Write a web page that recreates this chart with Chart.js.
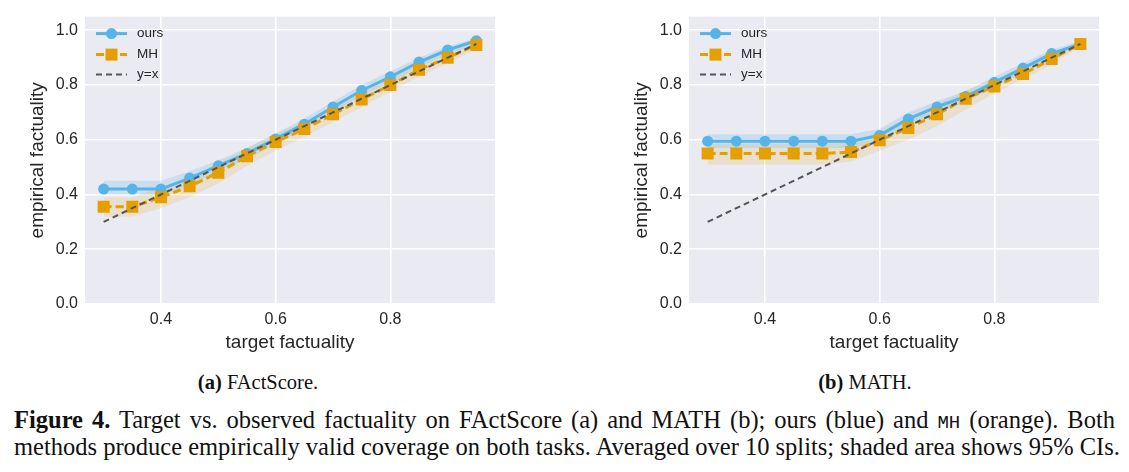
<!DOCTYPE html>
<html lang="en">
<head>
  <meta charset="UTF-8">
  <title>Target vs. observed factuality</title>
  <script src="https://cdn.jsdelivr.net/npm/chart.js"></script>
  <style>
    body {
      margin: 0;
      background: #ffffff;
      width: 1129px;
      height: 472px;
      position: relative;
      overflow: hidden;
    }

    canvas {
      position: absolute;
      top: 0;
    }

    #leftChart { left: 0; }
    #rightChart { left: 604px; }

    .sub {
      position: absolute;
      top: 369px;
      font-family: "Liberation Serif", serif;
      font-size: 20.5px;
      line-height: 26px;
      color: #111;
      width: 300px;
      text-align: center;
    }

    .caption {
      position: absolute;
      left: 14px;
      width: 1101px;
      font-family: "Liberation Serif", serif;
      font-size: 24.5px;
      line-height: 27px;
      color: #111;
      text-align: justify;
      text-align-last: justify;
      white-space: nowrap;
    }

    .mono {
      font-family: "Liberation Mono", monospace;
      font-size: 19px;
    }
  </style>
</head>
<body>
  <canvas id="leftChart" width="505" height="360"></canvas>
  <canvas id="rightChart" width="505" height="360"></canvas>

  <div class="sub" style="left: 108px;"><b>(a)</b> FActScore.</div>
  <div class="sub" style="left: 715px;"><b>(b)</b> MATH.</div>

  <div class="caption" style="top: 406px;"><b>Figure 4.</b> Target vs. observed factuality on FActScore (a) and MATH (b); ours (blue) and <span class="mono">MH</span> (orange). Both</div>
  <div class="caption" style="top: 433px;">methods produce empirically valid coverage on both tasks. Averaged over 10 splits; shaded area shows 95% CIs.</div>

  <script>
    // target factuality levels (shared by both panels)
    const targets = [0.3, 0.35, 0.4, 0.45, 0.5, 0.55, 0.6, 0.65, 0.7, 0.75, 0.8, 0.85, 0.9, 0.95];
    const xTicks = [0.4, 0.6, 0.8];
    const yTicks = [0.0, 0.2, 0.4, 0.6, 0.8, 1.0];

    // (a) FActScore
    const factOurs   = [0.42, 0.42, 0.42, 0.46, 0.505, 0.55, 0.603, 0.657, 0.72, 0.78, 0.83, 0.884, 0.928, 0.962];
    const factOursLo = [0.40, 0.40, 0.40, 0.435, 0.485, 0.53, 0.585, 0.64, 0.70, 0.76, 0.81, 0.865, 0.912, 0.95];
    const factOursHi = [0.45, 0.45, 0.45, 0.485, 0.525, 0.57, 0.622, 0.678, 0.74, 0.80, 0.85, 0.90, 0.942, 0.972];
    const factMH     = [0.355, 0.355, 0.39, 0.43, 0.48, 0.54, 0.592, 0.639, 0.693, 0.747, 0.80, 0.856, 0.90, 0.946];
    const factMHLo   = [0.32, 0.32, 0.35, 0.39, 0.44, 0.505, 0.56, 0.61, 0.665, 0.72, 0.775, 0.83, 0.88, 0.93];
    const factMHHi   = [0.39, 0.39, 0.425, 0.465, 0.515, 0.57, 0.622, 0.668, 0.72, 0.772, 0.825, 0.878, 0.918, 0.96];

    // (b) MATH
    const mathOurs   = [0.595, 0.595, 0.595, 0.595, 0.595, 0.595, 0.616, 0.676, 0.72, 0.758, 0.81, 0.862, 0.915, 0.95];
    const mathOursLo = [0.57, 0.57, 0.57, 0.57, 0.57, 0.57, 0.595, 0.655, 0.70, 0.74, 0.792, 0.845, 0.9, 0.94];
    const mathOursHi = [0.62, 0.62, 0.62, 0.62, 0.62, 0.62, 0.64, 0.70, 0.742, 0.778, 0.83, 0.88, 0.93, 0.96];
    const mathMH     = [0.55, 0.55, 0.55, 0.55, 0.55, 0.555, 0.598, 0.643, 0.693, 0.75, 0.795, 0.84, 0.895, 0.95];
    const mathMHLo   = [0.51, 0.51, 0.51, 0.51, 0.51, 0.52, 0.56, 0.60, 0.65, 0.71, 0.77, 0.82, 0.875, 0.94];
    const mathMHHi   = [0.585, 0.585, 0.585, 0.585, 0.585, 0.59, 0.632, 0.68, 0.73, 0.78, 0.82, 0.86, 0.912, 0.96];

    const BLUE = "#56B4E9";
    const ORANGE = "#E69F00";
    const TEXT = "#262626";
    const FONT = "'Liberation Sans', Arial, sans-serif";

    const pts = (ys) => targets.map((x, i) => ({ x: x, y: ys[i] }));

    // seaborn-like grey plot background
    const bgPlugin = {
      id: "plotBg",
      beforeDraw(chart) {
        const { ctx, chartArea: a } = chart;
        ctx.save();
        ctx.fillStyle = "#EAEAF2";
        ctx.fillRect(a.left, a.top, a.right - a.left, a.bottom - a.top);
        ctx.restore();
      }
    };

    // legend drawn inside the plot, upper left
    const legendPlugin = {
      id: "innerLegend",
      afterDraw(chart) {
        const { ctx, chartArea: a } = chart;
        const x0 = a.left + 11, x1 = a.left + 42, xm = (x0 + x1) / 2, tx = a.left + 52;
        const rows = [a.top + 17, a.top + 38, a.top + 58];
        ctx.save();
        ctx.lineWidth = 3;

        // ours
        ctx.strokeStyle = BLUE;
        ctx.beginPath(); ctx.moveTo(x0, rows[0]); ctx.lineTo(x1, rows[0]); ctx.stroke();
        ctx.fillStyle = BLUE;
        ctx.beginPath(); ctx.arc(xm, rows[0], 5.5, 0, Math.PI * 2); ctx.fill();

        // MH
        ctx.strokeStyle = ORANGE;
        ctx.setLineDash([8, 4]);
        ctx.beginPath(); ctx.moveTo(x0, rows[1]); ctx.lineTo(x1, rows[1]); ctx.stroke();
        ctx.fillStyle = ORANGE;
        ctx.fillRect(xm - 6, rows[1] - 6, 12, 12);

        // y=x
        ctx.strokeStyle = "#555555";
        ctx.lineWidth = 2;
        ctx.setLineDash([6, 4]);
        ctx.beginPath(); ctx.moveTo(x0, rows[2]); ctx.lineTo(x1, rows[2]); ctx.stroke();
        ctx.setLineDash([]);

        ctx.fillStyle = TEXT;
        ctx.font = "13.5px " + FONT;
        ctx.textBaseline = "middle";
        ctx.fillText("ours", tx, rows[0]);
        ctx.fillText("MH", tx, rows[1]);
        ctx.fillText("y=x", tx, rows[2]);
        ctx.restore();
      }
    };

    function makeChart(id, ours, oursLo, oursHi, mh, mhLo, mhHi) {
      return new Chart(document.getElementById(id), {
        type: "line",
        data: {
          datasets: [
            // 0,1: ours band
            { data: pts(oursLo), borderWidth: 0, pointRadius: 0, fill: false, order: 10 },
            { data: pts(oursHi), borderWidth: 0, pointRadius: 0, fill: 0,
              backgroundColor: "rgba(86, 180, 233, 0.22)", order: 10 },
            // 2,3: MH band
            { data: pts(mhLo), borderWidth: 0, pointRadius: 0, fill: false, order: 10 },
            { data: pts(mhHi), borderWidth: 0, pointRadius: 0, fill: 2,
              backgroundColor: "rgba(230, 159, 0, 0.15)", order: 10 },
            // 4: ours
            { label: "ours", data: pts(ours), borderColor: BLUE, backgroundColor: BLUE,
              borderWidth: 3, pointStyle: "circle", pointRadius: 5.5, pointBorderWidth: 0,
              fill: false, order: 3 },
            // 5: MH
            { label: "MH", data: pts(mh), borderColor: ORANGE, backgroundColor: ORANGE,
              borderWidth: 3, borderDash: [8, 4], pointStyle: "rect", pointRadius: 8.5,
              pointBorderWidth: 0, fill: false, order: 2 },
            // 6: y=x
            { label: "y=x", data: pts(targets), borderColor: "#555555", borderWidth: 2,
              borderDash: [6, 4], pointRadius: 0, fill: false, order: 1 }
          ]
        },
        options: {
          responsive: false,
          animation: false,
          layout: { padding: { top: 14, right: 10, left: 0, bottom: 0 } },
          plugins: {
            legend: { display: false },
            tooltip: { enabled: false }
          },
          scales: {
            x: {
              type: "linear",
              min: 0.2675,
              max: 0.9825,
              afterBuildTicks: (s) => { s.ticks = xTicks.map(v => ({ value: v })); },
              afterFit: (s) => { s.height = 56; },
              grid: { color: "#ffffff", lineWidth: 1.6, drawTicks: false },
              border: { display: false },
              ticks: {
                padding: 6,
                color: TEXT,
                font: { family: FONT, size: 16 },
                callback: (v) => Number(v).toFixed(1)
              },
              title: {
                display: true,
                text: "target factuality",
                color: TEXT,
                font: { family: FONT, size: 19 },
                padding: { top: 0, bottom: 6 }
              }
            },
            y: {
              min: 0,
              max: 1.05,
              afterBuildTicks: (s) => { s.ticks = yTicks.map(v => ({ value: v })); },
              afterFit: (s) => { s.width = 85; },
              grid: { color: "#ffffff", lineWidth: 1.6, drawTicks: false },
              border: { display: false },
              ticks: {
                padding: 7,
                color: TEXT,
                font: { family: FONT, size: 16 },
                callback: (v) => Number(v).toFixed(1)
              },
              title: {
                display: true,
                text: "empirical factuality",
                color: TEXT,
                font: { family: FONT, size: 19 },
                padding: { top: 26, bottom: 0 }
              }
            }
          }
        },
        plugins: [bgPlugin, legendPlugin]
      });
    }

    makeChart("leftChart", factOurs, factOursLo, factOursHi, factMH, factMHLo, factMHHi);
    makeChart("rightChart", mathOurs, mathOursLo, mathOursHi, mathMH, mathMHLo, mathMHHi);
  </script>
</body>
</html>
